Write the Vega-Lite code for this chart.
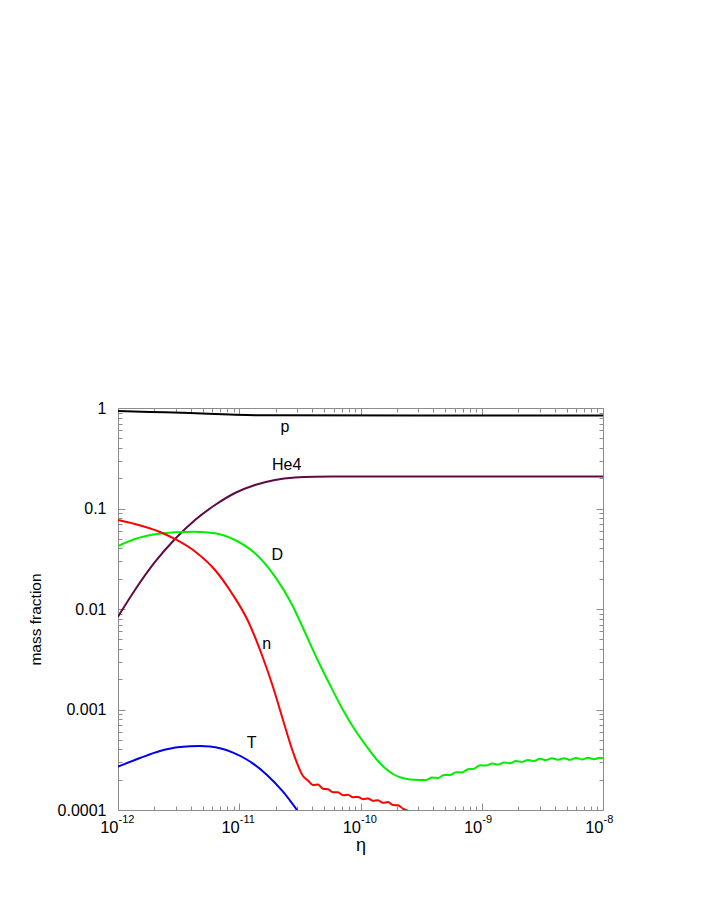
{
  "$schema": "https://vega.github.io/schema/vega-lite/v6.json",
  "width": 485,
  "height": 402,
  "autosize": {"type": "none"},
  "padding": {"left": 118, "top": 408, "right": 103, "bottom": 103},
  "background": "white",
  "config": {
    "view": {"stroke": null},
    "font": "Liberation Sans",
    "axis": {"grid": false, "domainColor": "#8c8c8c", "tickColor": "#8c8c8c", "labelColor": "#000000", "titleColor": "#000000", "labelFont": "Liberation Sans", "titleFont": "Liberation Sans", "titleFontWeight": "normal", "labelFontSize": 16}
  },
  "datasets": {
    "curves": [
      {"eta": 1e-12, "frac": 0.934, "s": "p"},
      {"eta": 1.836e-12, "frac": 0.914, "s": "p"},
      {"eta": 3.926e-12, "frac": 0.892, "s": "p"},
      {"eta": 8.387e-12, "frac": 0.862, "s": "p"},
      {"eta": 1.793e-11, "frac": 0.845, "s": "p"},
      {"eta": 1e-8, "frac": 0.843, "s": "p"},

      {"eta": 1e-12, "frac": 0.00838, "s": "He4"},
      {"eta": 1.380e-12, "frac": 0.01546, "s": "He4"},
      {"eta": 2.019e-12, "frac": 0.02936, "s": "He4"},
      {"eta": 2.952e-12, "frac": 0.04971, "s": "He4"},
      {"eta": 4.316e-12, "frac": 0.07683, "s": "He4"},
      {"eta": 6.310e-12, "frac": 0.1083, "s": "He4"},
      {"eta": 9.224e-12, "frac": 0.1426, "s": "He4"},
      {"eta": 1.349e-11, "frac": 0.1713, "s": "He4"},
      {"eta": 1.972e-11, "frac": 0.1921, "s": "He4"},
      {"eta": 2.884e-11, "frac": 0.2035, "s": "He4"},
      {"eta": 4.216e-11, "frac": 0.2073, "s": "He4"},
      {"eta": 7e-11, "frac": 0.2082, "s": "He4"},
      {"eta": 1e-8, "frac": 0.2082, "s": "He4"},

      {"eta": 1e-12, "frac": 0.04234, "s": "D"},
      {"eta": 1.380e-12, "frac": 0.04971, "s": "D"},
      {"eta": 2.019e-12, "frac": 0.05537, "s": "D"},
      {"eta": 2.952e-12, "frac": 0.05798, "s": "D"},
      {"eta": 4.316e-12, "frac": 0.05878, "s": "D"},
      {"eta": 6.310e-12, "frac": 0.05665, "s": "D"},
      {"eta": 9.224e-12, "frac": 0.0486, "s": "D"},
      {"eta": 1.349e-11, "frac": 0.03582, "s": "D"},
      {"eta": 1.972e-11, "frac": 0.02097, "s": "D"},
      {"eta": 2.707e-11, "frac": 0.01121, "s": "D"},
      {"eta": 3.356e-11, "frac": 0.006471, "s": "D"},
      {"eta": 4.353e-11, "frac": 0.003254, "s": "D"},
      {"eta": 5.604e-11, "frac": 0.001752, "s": "D"},
      {"eta": 7.172e-11, "frac": 0.000989, "s": "D"},
      {"eta": 9.01e-11, "frac": 0.0006252, "s": "D"},
      {"eta": 1.125e-10, "frac": 0.0004283, "s": "D"},
      {"eta": 1.36e-10, "frac": 0.0003181, "s": "D"},
      {"eta": 1.645e-10, "frac": 0.0002529, "s": "D"},
      {"eta": 1.854e-10, "frac": 0.0002282, "s": "D"},
      {"eta": 2.118e-10, "frac": 0.0002116, "s": "D"},
      {"eta": 2.56e-10, "frac": 0.0002016, "s": "D"},
      {"eta": 3.095e-10, "frac": 0.0001989, "s": "D"},
      {"eta": 3.469e-10, "frac": 0.0001985, "s": "D"},
      {"eta": 3.888e-10, "frac": 0.0002101, "s": "D"},
      {"eta": 4.357e-10, "frac": 0.0002086, "s": "D"},
      {"eta": 4.884e-10, "frac": 0.0002225, "s": "D"},
      {"eta": 5.472e-10, "frac": 0.0002225, "s": "D"},
      {"eta": 6.133e-10, "frac": 0.0002377, "s": "D"},
      {"eta": 6.873e-10, "frac": 0.0002366, "s": "D"},
      {"eta": 7.702e-10, "frac": 0.0002541, "s": "D"},
      {"eta": 8.632e-10, "frac": 0.000257, "s": "D"},
      {"eta": 9.674e-10, "frac": 0.0002785, "s": "D"},
      {"eta": 1.084e-9, "frac": 0.0002766, "s": "D"},
      {"eta": 1.215e-9, "frac": 0.0002902, "s": "D"},
      {"eta": 1.361e-9, "frac": 0.0002829, "s": "D"},
      {"eta": 1.526e-9, "frac": 0.0002976, "s": "D"},
      {"eta": 1.71e-9, "frac": 0.0002915, "s": "D"},
      {"eta": 1.916e-9, "frac": 0.0003073, "s": "D"},
      {"eta": 2.148e-9, "frac": 0.000301, "s": "D"},
      {"eta": 2.407e-9, "frac": 0.0003151, "s": "D"},
      {"eta": 2.697e-9, "frac": 0.0003073, "s": "D"},
      {"eta": 3.022e-9, "frac": 0.0003232, "s": "D"},
      {"eta": 3.388e-9, "frac": 0.0003137, "s": "D"},
      {"eta": 3.797e-9, "frac": 0.0003277, "s": "D"},
      {"eta": 4.255e-9, "frac": 0.0003166, "s": "D"},
      {"eta": 4.769e-9, "frac": 0.0003277, "s": "D"},
      {"eta": 5.344e-9, "frac": 0.0003151, "s": "D"},
      {"eta": 5.989e-9, "frac": 0.0003299, "s": "D"},
      {"eta": 6.711e-9, "frac": 0.0003188, "s": "D"},
      {"eta": 7.521e-9, "frac": 0.0003314, "s": "D"},
      {"eta": 8.429e-9, "frac": 0.0003203, "s": "D"},
      {"eta": 9.447e-9, "frac": 0.0003314, "s": "D"},
      {"eta": 1e-8, "frac": 0.0003269, "s": "D"},

      {"eta": 1e-12, "frac": 0.07683, "s": "n"},
      {"eta": 1.380e-12, "frac": 0.07013, "s": "n"},
      {"eta": 2.22e-12, "frac": 0.05839, "s": "n"},
      {"eta": 3.049e-12, "frac": 0.0486, "s": "n"},
      {"eta": 4.316e-12, "frac": 0.03733, "s": "n"},
      {"eta": 6.310e-12, "frac": 0.02444, "s": "n"},
      {"eta": 8.662e-12, "frac": 0.01443, "s": "n"},
      {"eta": 1.181e-11, "frac": 0.007596, "s": "n"},
      {"eta": 1.57e-11, "frac": 0.003254, "s": "n"},
      {"eta": 1.899e-11, "frac": 0.001674, "s": "n"},
      {"eta": 2.295e-11, "frac": 0.000786, "s": "n"},
      {"eta": 2.775e-11, "frac": 0.0003777, "s": "n"},
      {"eta": 3.356e-11, "frac": 0.000218, "s": "n"},
      {"eta": 3.69e-11, "frac": 0.0001966, "s": "n"},
      {"eta": 4.057e-11, "frac": 0.0001774, "s": "n"},
      {"eta": 4.462e-11, "frac": 0.0001794, "s": "n"},
      {"eta": 4.906e-11, "frac": 0.0001625, "s": "n"},
      {"eta": 5.395e-11, "frac": 0.0001607, "s": "n"},
      {"eta": 5.932e-11, "frac": 0.00015, "s": "n"},
      {"eta": 6.523e-11, "frac": 0.0001503, "s": "n"},
      {"eta": 7.172e-11, "frac": 0.0001404, "s": "n"},
      {"eta": 7.885e-11, "frac": 0.000142, "s": "n"},
      {"eta": 8.671e-11, "frac": 0.0001338, "s": "n"},
      {"eta": 9.537e-11, "frac": 0.000135, "s": "n"},
      {"eta": 1.049e-10, "frac": 0.0001281, "s": "n"},
      {"eta": 1.153e-10, "frac": 0.0001301, "s": "n"},
      {"eta": 1.268e-10, "frac": 0.0001237, "s": "n"},
      {"eta": 1.394e-10, "frac": 0.0001252, "s": "n"},
      {"eta": 1.533e-10, "frac": 0.0001179, "s": "n"},
      {"eta": 1.686e-10, "frac": 0.0001198, "s": "n"},
      {"eta": 1.854e-10, "frac": 0.0001119, "s": "n"},
      {"eta": 2.038e-10, "frac": 0.0001116, "s": "n"},
      {"eta": 2.241e-10, "frac": 0.000103, "s": "n"},
      {"eta": 2.465e-10, "frac": 0.0000984, "s": "n"},

      {"eta": 1e-12, "frac": 0.0002697, "s": "T"},
      {"eta": 1.518e-12, "frac": 0.000329, "s": "T"},
      {"eta": 2.22e-12, "frac": 0.000386, "s": "T"},
      {"eta": 3.246e-12, "frac": 0.000423, "s": "T"},
      {"eta": 4.747e-12, "frac": 0.000433, "s": "T"},
      {"eta": 5.739e-12, "frac": 0.0004273, "s": "T"},
      {"eta": 6.938e-12, "frac": 0.000411, "s": "T"},
      {"eta": 8.881e-12, "frac": 0.0003725, "s": "T"},
      {"eta": 1.152e-11, "frac": 0.0003181, "s": "T"},
      {"eta": 1.299e-11, "frac": 0.0002895, "s": "T"},
      {"eta": 1.694e-11, "frac": 0.0002235, "s": "T"},
      {"eta": 2.295e-11, "frac": 0.0001521, "s": "T"},
      {"eta": 3.035e-11, "frac": 0.0000977, "s": "T"}
    ],
    "labels": [
      {"eta": 2.384e-11, "frac": 0.6517, "label": "p"},
      {"eta": 2.462e-11, "frac": 0.271, "label": "He4"},
      {"eta": 2.06e-11, "frac": 0.03446, "label": "D"},
      {"eta": 1.684e-11, "frac": 0.004454, "label": "n"},
      {"eta": 1.266e-11, "frac": 0.000461, "label": "T"}
    ]
  },
  "layer": [
    {
      "data": {"name": "curves"},
      "mark": {"type": "line", "strokeWidth": 2, "clip": true, "interpolate": "monotone"},
      "encoding": {
        "x": {
          "field": "eta", "type": "quantitative",
          "scale": {"type": "log", "domain": [1e-12, 1e-8], "nice": false},
          "axis": {
            "orient": "bottom",
            "title": "η",
            "titleFontSize": 18,
            "titleX": 242.5,
            "titleY": 40,
            "titleBaseline": "alphabetic",
            "titleAlign": "center",
            "values": [1e-12,2e-12,3e-12,4e-12,5e-12,6e-12,7e-12,8e-12,9e-12,1e-11,2e-11,3e-11,4e-11,5e-11,6e-11,7e-11,8e-11,9e-11,1e-10,2e-10,3e-10,4e-10,5e-10,6e-10,7e-10,8e-10,9e-10,1e-9,2e-9,3e-9,4e-9,5e-9,6e-9,7e-9,8e-9,9e-9,1e-8],
            "labelExpr": "(abs(log(datum.value)/LN10 - round(log(datum.value)/LN10)) > 0.001) ? '' : '10'",
            "labelFontSize": 16.5,
            "labelAlign": "right",
            "labelBaseline": "alphabetic",
            "labelDx": -2,
            "labelFlush": false,
            "labelOverlap": false,
            "labelPadding": 29,
            "tickSize": {"condition": {"test": "abs(log(datum.value)/LN10 - round(log(datum.value)/LN10)) < 0.001", "value": -7}, "value": -4}
          }
        },
        "y": {
          "field": "frac", "type": "quantitative",
          "scale": {"type": "log", "domain": [0.0001, 1], "nice": false},
          "axis": {
            "orient": "left",
            "title": "mass fraction",
            "titleFontSize": 15.5,
            "titleAngle": -90,
            "titleX": -83,
            "titleY": 211,
            "titleBaseline": "middle",
            "titleAlign": "center",
            "values": [0.0001,0.0002,0.0003,0.0004,0.0005,0.0006,0.0007,0.0008,0.0009,0.001,0.002,0.003,0.004,0.005,0.006,0.007,0.008,0.009,0.01,0.02,0.03,0.04,0.05,0.06,0.07,0.08,0.09,0.1,0.2,0.3,0.4,0.5,0.6,0.7,0.8,0.9,1],
            "labelExpr": "(abs(log(datum.value)/LN10 - round(log(datum.value)/LN10)) > 0.001) ? '' : round(log(datum.value)/LN10) == 0 ? '1' : round(log(datum.value)/LN10) == -1 ? '0.1' : round(log(datum.value)/LN10) == -2 ? '0.01' : round(log(datum.value)/LN10) == -3 ? '0.001' : '0.0001'",
            "labelFlush": false,
            "labelOverlap": false,
            "labelPadding": 19,
            "tickSize": {"condition": {"test": "abs(log(datum.value)/LN10 - round(log(datum.value)/LN10)) < 0.001", "value": -7}, "value": -4}
          }
        },
        "color": {
          "field": "s", "type": "nominal",
          "scale": {"domain": ["p", "He4", "D", "n", "T"], "range": ["#000000", "#5e0a44", "#00ee00", "#ff0000", "#0000ee"]},
          "legend": null
        },
        "detail": {"field": "s"}
      }
    },
    {
      "data": {"name": "labels"},
      "mark": {"type": "text", "fontSize": 16, "font": "Liberation Sans", "align": "center", "baseline": "middle", "color": "#000000"},
      "encoding": {
        "x": {
          "field": "eta", "type": "quantitative",
          "scale": {"type": "log", "domain": [1e-12, 1e-8], "nice": false},
          "axis": {
            "orient": "top", "title": null, "labels": false,
            "values": [1e-12,2e-12,3e-12,4e-12,5e-12,6e-12,7e-12,8e-12,9e-12,1e-11,2e-11,3e-11,4e-11,5e-11,6e-11,7e-11,8e-11,9e-11,1e-10,2e-10,3e-10,4e-10,5e-10,6e-10,7e-10,8e-10,9e-10,1e-9,2e-9,3e-9,4e-9,5e-9,6e-9,7e-9,8e-9,9e-9,1e-8],
            "tickSize": {"condition": {"test": "abs(log(datum.value)/LN10 - round(log(datum.value)/LN10)) < 0.001", "value": -7}, "value": -4}
          }
        },
        "y": {
          "field": "frac", "type": "quantitative",
          "scale": {"type": "log", "domain": [0.0001, 1], "nice": false},
          "axis": {
            "orient": "right", "title": null, "labels": false,
            "values": [0.0001,0.0002,0.0003,0.0004,0.0005,0.0006,0.0007,0.0008,0.0009,0.001,0.002,0.003,0.004,0.005,0.006,0.007,0.008,0.009,0.01,0.02,0.03,0.04,0.05,0.06,0.07,0.08,0.09,0.1,0.2,0.3,0.4,0.5,0.6,0.7,0.8,0.9,1],
            "tickSize": {"condition": {"test": "abs(log(datum.value)/LN10 - round(log(datum.value)/LN10)) < 0.001", "value": -7}, "value": -4}
          }
        },
        "text": {"field": "label", "type": "nominal"}
      }
    },
    {
      "data": {"name": "labels"},
      "mark": {"type": "point", "opacity": 0},
      "encoding": {
        "x": {
          "field": "eta", "type": "quantitative",
          "scale": {"type": "log", "domain": [1e-12, 1e-8], "nice": false},
          "axis": {
            "orient": "bottom", "title": null, "domain": false,
            "ticks": true, "tickOpacity": 0, "tickSize": 0,
            "values": [1e-12, 1e-11, 1e-10, 1e-9, 1e-8],
            "labelExpr": "'-' + (-round(log(datum.value)/LN10))",
            "labelFontSize": 11,
            "labelAlign": "left",
            "labelBaseline": "alphabetic",
            "labelDx": -1,
            "labelFlush": false,
            "labelOverlap": false,
            "labelPadding": 12.5
          }
        },
        "y": {
          "field": "frac", "type": "quantitative",
          "scale": {"type": "log", "domain": [0.0001, 1], "nice": false},
          "axis": null
        }
      }
    }
  ],
  "resolve": {"axis": {"x": "independent", "y": "independent"}}
}
